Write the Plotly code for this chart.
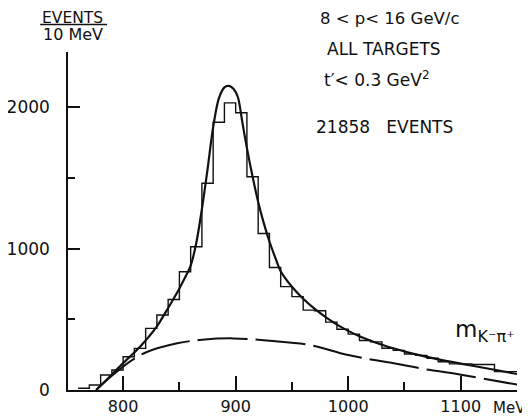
import plotly.graph_objects as go

# ---- data ----
bin_lo = [760, 770, 780, 790, 800, 810, 820, 830, 840, 850, 860, 870, 880, 890,
          900, 910, 920, 930, 940, 950, 960, 970, 980, 990, 1000, 1010, 1020,
          1030, 1040, 1050, 1060, 1070, 1080, 1090, 1100, 1110, 1120, 1130, 1140]
counts = [12, 35, 106, 141, 235, 294, 436, 530, 640, 836, 1013, 1462, 1893, 2030,
          1960, 1508, 1107, 866, 731, 660, 565, 560, 480, 430, 395, 350, 340,
          295, 280, 255, 245, 225, 200, 185, 185, 180, 180, 130, 130]
bin_width = 10

fit_m = [776, 788, 800, 815, 830, 840, 850, 855, 860, 865, 870, 875, 880, 885,
         890, 894, 898, 902, 906, 910, 915, 920, 925, 930, 935, 940, 950, 960,
         970, 980, 990, 1000, 1010, 1020, 1030, 1040, 1060, 1080, 1100, 1125, 1150]
fit_v = [0, 94, 190, 306, 450, 580, 718, 795, 880, 1040, 1280, 1560, 1860, 2060,
         2140, 2150, 2130, 2070, 1890, 1710, 1510, 1330, 1180, 1050, 940, 840, 730, 645,
         575, 515, 462, 418, 380, 348, 320, 295, 252, 217, 187, 150, 113]

bg_m = [776, 790, 805, 820, 848, 870, 898, 930, 966, 1000, 1049, 1064, 1099, 1150]
bg_v = [0, 100, 195, 265, 330, 355, 365, 348, 318, 247, 177, 153, 110, 38]

x_ticks = [800, 900, 1000, 1100]
y_ticks = [0, 1000, 2000]

# ---- figure ----
FONT = "DejaVu Sans"
INK = "#111111"

hist_x = bin_lo + [bin_lo[-1] + bin_width]
hist_y = counts + [counts[-1]]

fig = go.Figure()
fig.add_trace(go.Scatter(x=hist_x, y=hist_y, mode="lines", line_shape="hv",
                         line=dict(color=INK, width=1.4), hoverinfo="skip"))
fig.add_trace(go.Scatter(x=bg_m, y=bg_v, mode="lines", line_shape="spline",
                         line=dict(color=INK, width=2, dash="50px,8px"), hoverinfo="skip"))
fig.add_trace(go.Scatter(x=fit_m, y=fit_v, mode="lines", line_shape="spline",
                         line=dict(color=INK, width=2.2, smoothing=0.8), hoverinfo="skip"))

# page body has an 8px default margin, so the figure is 8px smaller and offset
fig.update_layout(
    width=522, height=409,
    margin=dict(l=60, r=13, t=44, b=27, autoexpand=False),
    paper_bgcolor="white", plot_bgcolor="white",
    showlegend=False,
    font=dict(family=FONT, size=16, color=INK),
)
fig.update_xaxes(range=[751, 1150], showgrid=False, zeroline=False,
                 showline=True, linecolor=INK, linewidth=1.5,
                 ticks="inside", ticklen=14, tickwidth=1.5, tickcolor=INK,
                 tickvals=x_ticks, ticktext=[str(v) for v in x_ticks],
                 tickfont=dict(size=16), ticklabelstandoff=1,
                 minor=dict(ticks="inside", ticklen=8, tickwidth=1.5, tickcolor=INK,
                            tickvals=[850, 950, 1050]))
fig.update_yaxes(range=[0, 2390], showgrid=False, zeroline=False,
                 showline=True, linecolor=INK, linewidth=1.5,
                 ticks="inside", ticklen=12, tickwidth=1.5, tickcolor=INK,
                 tickvals=y_ticks, ticktext=[str(v) for v in y_ticks],
                 tickfont=dict(size=17), ticklabelstandoff=13,
                 minor=dict(ticks="inside", ticklen=7, tickwidth=1.5, tickcolor=INK,
                            tickvals=[500, 1500]))

def ann(text, x, y, size=16, xanchor="center"):
    fig.add_annotation(text=text, x=x, y=y, xref="paper", yref="paper",
                       xanchor=xanchor, yanchor="middle", showarrow=False,
                       font=dict(family=FONT, size=size, color=INK))

ann("EVENTS", 0.011, 1.100, 15.5)
ann("10 MeV", 0.011, 1.051, 16)
fig.add_shape(type="line", xref="paper", yref="paper",
              x0=-0.062, x1=0.087, y0=1.081, y1=1.081,
              line=dict(color=INK, width=1.5))

ann("8 &lt; p&lt; 16 GeV/c", 0.716, 1.100, 16.5)
ann("ALL TARGETS", 0.704, 1.010, 17)
ann("t′&lt; 0.3 GeV<sup>2</sup>", 0.688, 0.920, 17)
ann("21858&nbsp;&nbsp; EVENTS", 0.706, 0.778, 17)
ann("m<sub>K⁻π⁺</sub>", 0.858, 0.175, 23, xanchor="left")
ann("MeV", 0.984, -0.052, 15)

fig.write_html("out.html")
